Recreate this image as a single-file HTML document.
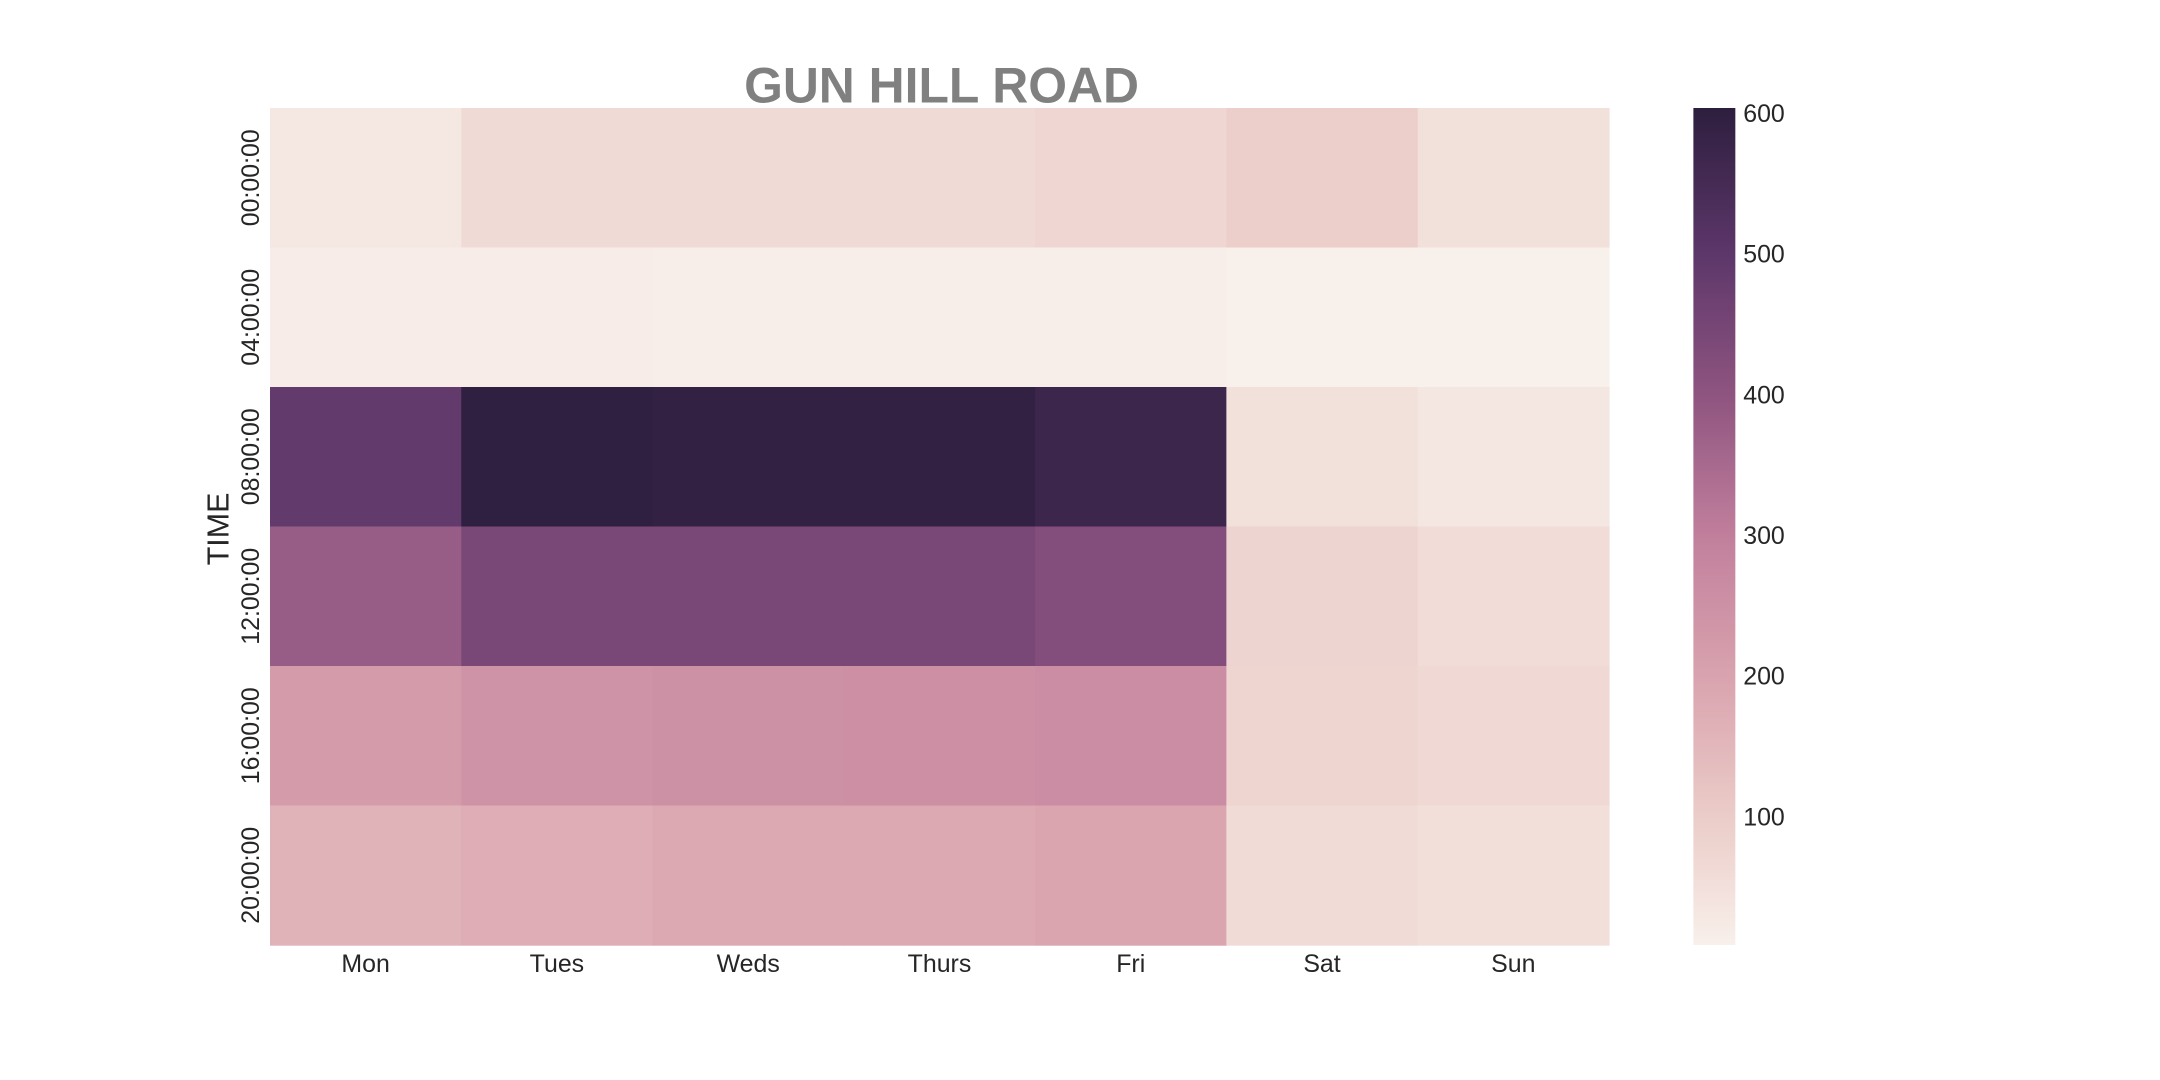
<!DOCTYPE html>
<html><head><meta charset="utf-8"><style>
html,body{margin:0;padding:0;background:#fff;}
svg{display:block;font-family:"Liberation Sans",sans-serif;}
</style></head><body>
<svg id="chart" width="2160" height="1080" viewBox="0 0 1560 780" xmlns="http://www.w3.org/2000/svg">
<text x="680" y="74" text-anchor="middle" font-size="36" font-weight="bold" fill="#808080">GUN HILL ROAD</text>
<text transform="translate(165,382) rotate(-90)" text-anchor="middle" font-size="22" fill="#262626">TIME</text>
<g id="cells"></g>
<g id="xt"></g>
<g id="yt"></g>
<defs><linearGradient id="cbg" x1="0" y1="1" x2="0" y2="0"></linearGradient></defs>
<rect x="1223" y="78" width="30.3" height="604.5" fill="url(#cbg)"/>
<g id="cbt"></g>
</svg>
<script>
const days = ["Mon","Tues","Weds","Thurs","Fri","Sat","Sun"];
const times = ["00:00:00","04:00:00","08:00:00","12:00:00","16:00:00","20:00:00"];
const values = [
 [30,65,65,65,75,95,50],
 [18,18,15,15,14,10,10],
 [490,600,590,590,570,50,35],
 [380,440,440,440,420,80,60],
 [220,245,250,255,260,78,68],
 [160,175,185,185,195,62,52]
];
const cbTicks = [100,200,300,400,500,600];
const vmin = 9, vmax = 604;
const stopVals = [9,100,200,300,400,500,604];
const stopCols = ["#f8f0eb","#ebccc8","#d9a3ae","#c17f9c","#8e5480","#5d376a","#2d1e3e"];

const NS="http://www.w3.org/2000/svg";
const X0=195,X1=1162,Y0=78,Y1=682.5;
const cw=(X1-X0)/days.length, rh=(Y1-Y0)/times.length;
function hex(c){return [1,3,5].map(i=>parseInt(c.substr(i,2),16));}
function color(v){
  v=Math.max(vmin,Math.min(vmax,v));
  for(let i=0;i<stopVals.length-1;i++){
    if(v<=stopVals[i+1]){
      const t=(v-stopVals[i])/(stopVals[i+1]-stopVals[i]);
      const a=hex(stopCols[i]),b=hex(stopCols[i+1]);
      return "rgb("+a.map((x,k)=>Math.round(x+(b[k]-x)*t)).join(",")+")";
    }
  }
  return stopCols[stopCols.length-1];
}
function cbY(v){return Y1-(v-vmin)/(vmax-vmin)*(Y1-Y0);}
const cells=document.getElementById("cells");
values.forEach((row,r)=>row.forEach((v,c)=>{
  const el=document.createElementNS(NS,"rect");
  
  
  el.setAttribute("x",X0+c*cw);el.setAttribute("y",Y0+r*rh);
  el.setAttribute("width",cw+0.5);el.setAttribute("height",rh+0.5);
  el.setAttribute("fill",color(v));
  cells.appendChild(el);
}));
const xt=document.getElementById("xt");
days.forEach((d,i)=>{
  const t=document.createElementNS(NS,"text");
  
  
  t.setAttribute("x",X0+(i+0.5)*cw);t.setAttribute("y",702);
  t.setAttribute("text-anchor","middle");t.setAttribute("font-size","18");t.setAttribute("fill","#262626");
  t.textContent=d;xt.appendChild(t);
});
const yt=document.getElementById("yt");
times.forEach((d,i)=>{
  const t=document.createElementNS(NS,"text");
  
  
  t.setAttribute("transform","translate(187,"+(Y0+(i+0.5)*rh)+") rotate(-90)");
  t.setAttribute("text-anchor","middle");t.setAttribute("font-size","18");t.setAttribute("fill","#262626");
  t.textContent=d;yt.appendChild(t);
});
const g=document.getElementById("cbg");
for(let k=0;k<=40;k++){
  const v=vmin+(vmax-vmin)*k/40;
  const s=document.createElementNS(NS,"stop");
  s.setAttribute("offset",(k/40));s.setAttribute("stop-color",color(v));
  g.appendChild(s);
}
const cbt=document.getElementById("cbt");
cbTicks.forEach(v=>{
  const t=document.createElementNS(NS,"text");
  
  
  t.setAttribute("x",1259);t.setAttribute("y",cbY(v)+6);
  t.setAttribute("font-size","18");t.setAttribute("fill","#262626");
  t.textContent=v;cbt.appendChild(t);
});
</script>
</body></html>
